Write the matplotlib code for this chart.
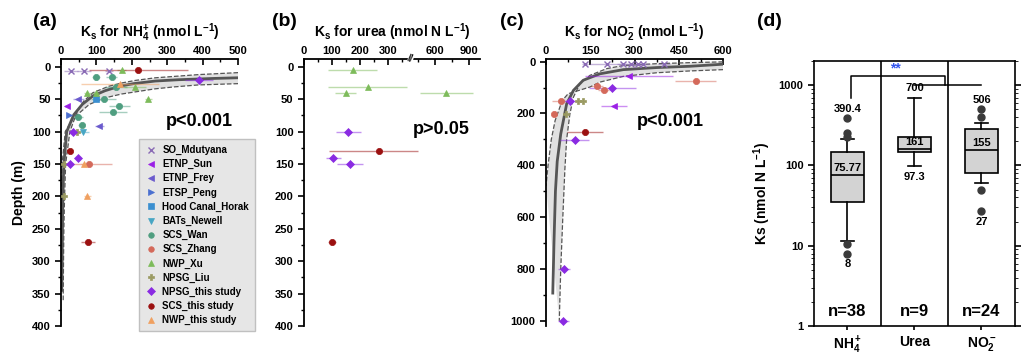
import numpy as np
import matplotlib
matplotlib.use("Agg")
import matplotlib.pyplot as plt
from matplotlib.colors import to_rgba
from matplotlib.lines import Line2D
from matplotlib.ticker import FixedLocator, MultipleLocator

plt.rcParams['font.family'] = ['Liberation Sans', 'DejaVu Sans']
plt.rcParams['font.weight'] = 'bold'
plt.rcParams['axes.labelweight'] = 'bold'
plt.rcParams['axes.titleweight'] = 'bold'
plt.rcParams['mathtext.fontset'] = 'custom'
for k in ['rm', 'it', 'bf', 'sf']:
    plt.rcParams['mathtext.' + k] = 'Liberation Sans:bold'

# series (legend order)
names = ["SO_Mdutyana", "ETNP_Sun", "ETNP_Frey", "ETSP_Peng", "Hood Canal_Horak",
         "BATs_Newell", "SCS_Wan", "SCS_Zhang", "NWP_Xu", "NPSG_Liu",
         "NPSG_this study", "SCS_this study", "NWP_this study"]
markers = ["x", "<", "<", ">", "s", "v", "o", "o", "^", "P", "D", "o", "^"]
colors = ["#8a6bb5", "#9a1fe6", "#6a5acd", "#4a6fd0", "#3b8fd0", "#47a6c4", "#4f9e80",
          "#d4695a", "#7dbb5a", "#9a9a62", "#8a2be2", "#9b1010", "#f0a060"]

# panel (a): Ks NH4+ (nmol L-1) vs depth (m)
a_names = ["SO_Mdutyana", "ETNP_Sun", "ETNP_Frey", "ETSP_Peng", "Hood Canal_Horak",
           "BATs_Newell", "SCS_Wan", "SCS_Zhang", "NWP_Xu", "NPSG_Liu",
           "NPSG_this study", "SCS_this study", "NWP_this study"]
a_ks = [[27, 66, 135], [17], [49, 108], [22], [98], [63],
        [99, 143, 155, 120, 165, 146, 48, 59], [79], [171, 209, 74, 98, 247],
        [44, 7, 7], [390, 35, 47, 24], [218, 24, 77], [167, 65, 74]]
a_depth = [[7, 7, 7], [60], [50, 92], [75], [50], [100],
           [15, 15, 31, 50, 60, 70, 77, 90], [150], [5, 31, 41, 41, 50],
           [100, 150, 200], [20, 100, 140, 150], [5, 130, 270], [26, 150, 200]]
a_err = [[20, 20, 12], [5], [15, 12], [4], [3], [15],
         [12, 15, 30, 35, 30, 40, 15, 10], [65], [12, 30, 10, 10, 10],
         [4, 3, 3], [40, 5, 5, 5], [140, 3, 20], [110, 8, 10]]
a_fit_depth = [17, 18, 20, 22, 26, 30, 37, 45, 58, 74, 100, 150, 200, 250, 300, 345]
a_fit_ks = [496, 430, 330, 266, 205, 165, 124, 90, 60, 36, 16, 8, 5, 4, 3, 2]
a_hi_depth = [9, 12, 17, 21, 25, 30, 40, 53, 70, 100, 150, 200, 250, 300, 362]
a_hi_ks = [500, 390, 266, 210, 171, 135, 90, 64, 45, 25, 13, 10, 8, 7, 6]
a_lo_depth = [26, 28, 31, 34, 42, 48, 58, 79, 100, 150, 200, 250, 300]
a_lo_ks = [500, 388, 320, 266, 171, 124, 80, 35, 12, 3, 1, 0.5, 0]

# panel (b): Ks urea (nmol N L-1)
b_names = ["NWP_Xu", "NPSG_this study", "SCS_this study"]
b_ks = [[174, 227, 149, 700], [158, 105, 164], [269, 99]]
b_depth = [[5, 31, 40, 40], [100, 140, 150], [130, 270]]
b_err = [[87, 140, 38, 235], [44, 27, 45], [180, 14]]

# panel (c): Ks NO2- (nmol L-1)
c_names = ["SO_Mdutyana", "ETNP_Sun", "SCS_Zhang", "NPSG_this study", "NPSG_Liu",
           "SCS_this study"]
c_ks = [[133, 206, 262, 287, 313, 330, 401], [282, 230], [507, 174, 195, 50, 27],
        [225, 81, 97, 62, 59], [107, 124, 68], [132]]
c_depth = [[8, 8, 8, 8, 8, 8, 8], [54, 170], [76, 96, 111, 151, 202],
           [101, 151, 301, 801, 1000], [151, 151, 202], [270]]
c_err = [[10, 60, 20, 20, 20, 20, 20], [150, 45], [70, 20, 20, 30, 8],
         [80, 25, 50, 20, 20], [5, 5, 5], [60]]
c_fit_depth = [10, 18, 23, 31, 47, 72, 111, 163, 227, 279, 385, 500, 700, 893]
c_fit_ks = [600, 488, 375, 262, 183, 126, 93, 70, 59, 50, 38, 32, 27, 23]
c_hi_depth = [1, 4, 8, 15, 27, 53, 85, 137, 202, 300, 415, 600, 800, 1000]
c_hi_ks = [600, 488, 375, 262, 206, 149, 115, 93, 81, 70, 64, 57, 50, 45]
c_lo_depth = [31, 36, 43, 57, 79, 98, 124, 150, 227, 300, 400, 480]
c_lo_ks = [600, 488, 375, 262, 183, 149, 75, 55, 31, 18, 7, 0]

# panel (d): box plot summary
d_labels = ["NH$_4^+$", "Urea", "NO$_2^-$"]
d_q1 = [35.5, 146, 81.5]
d_med = [75.77, 161, 155]
d_q3 = [146, 226, 284]
d_whislo = [11.3, 97.3, 61]
d_whishi = [211, 700, 334]
d_fliers = [[390.4, 253, 228, 10.5, 8], [], [506, 404, 49.7, 27]]
d_n = [38, 9, 24]
d_top_text = ["390.4", "700", "506"]
d_mid_text = ["75.77", "161", "155"]
d_bot_text = ["8", "97.3", "27"]

fig = plt.figure(figsize=(10.24, 3.57), dpi=100)
style = {n: (m, c) for n, m, c in zip(names, markers, colors)}


def depth_axes(ax, ymax, ymajor, yminor, xmax, xmajor, title):
    for s in ['right', 'bottom']:
        ax.spines[s].set_visible(False)
    for s in ['left', 'top']:
        ax.spines[s].set_linewidth(1.3)
    ax.xaxis.tick_top()
    ax.set_ylim(ymax, -ymax * 0.03)
    ax.yaxis.set_major_locator(MultipleLocator(ymajor))
    ax.yaxis.set_minor_locator(MultipleLocator(yminor))
    if xmax is not None:
        ax.set_xlim(0, xmax)
        ax.xaxis.set_major_locator(MultipleLocator(xmajor))
        ax.xaxis.set_minor_locator(MultipleLocator(xmajor / 2))
    ax.tick_params(axis='x', which='both', direction='in', labelsize=8, pad=2)
    ax.tick_params(axis='x', which='major', length=4, width=1.2)
    ax.tick_params(axis='x', which='minor', length=2.5, width=1)
    ax.tick_params(axis='y', which='major', length=4, width=1.2, labelsize=8)
    ax.tick_params(axis='y', which='minor', length=2.5, width=1)
    ax.set_title(title, fontsize=10, pad=16)


def draw_points(ax, snames, ks, depth, err):
    for n, x, y, e in zip(snames, ks, depth, err):
        m, c = style[n]
        ax.errorbar(x, y, xerr=e, fmt=m, color=c, ms=4.5 if m != 'x' else 5,
                    mew=1 if m == 'x' else 0.5, ecolor=to_rgba(c, 0.5),
                    elinewidth=1, capsize=0, zorder=3)


def draw_fit(ax, fd, fk, hd, hk, ld, lk):
    ax.fill(list(hk) + list(lk[::-1]), list(hd) + list(ld[::-1]),
            color='#dcdcdc', alpha=0.85, lw=0, zorder=1)
    ax.plot(hk, hd, '--', color='#555555', lw=0.9, zorder=2)
    ax.plot(lk, ld, '--', color='#555555', lw=0.9, zorder=2)
    ax.plot(fk, fd, '-', color='#555555', lw=2, zorder=2)


# (a)
ax_a = fig.add_axes([0.0596, 0.0868, 0.1729, 0.7479])
depth_axes(ax_a, 400, 50, 25, 500, 100,
           r"K$_{s}$ for NH$_{4}^{+}$ (nmol L$^{-1}$)")
draw_fit(ax_a, a_fit_depth, a_fit_ks, a_hi_depth, a_hi_ks, a_lo_depth, a_lo_ks)
draw_points(ax_a, a_names, a_ks, a_depth, a_err)
ax_a.set_ylabel("Depth (m)", fontsize=10, labelpad=4)
ax_a.text(0.78, 0.765, "p<0.001", transform=ax_a.transAxes, fontsize=13,
          ha='center', va='center')
handles = [Line2D([], [], ls='none', marker=m, color=c, ms=4, mew=1 if m == 'x' else 0.5)
           for m, c in zip(markers, colors)]
leg = ax_a.legend(handles, names, loc='upper left', bbox_to_anchor=(0.44, 0.70),
                  fontsize=7, labelspacing=0.42, handletextpad=0.6, handlelength=1.2,
                  borderpad=0.6, fancybox=False, framealpha=1, borderaxespad=0)
leg.get_frame().set_facecolor('#e6e6e6')
leg.get_frame().set_edgecolor('#c0c0c0')
leg.set_zorder(5)

# (b) broken x axis via piecewise scale
brk, ratio = 380, 0.40


def fwd(x):
    x = np.asarray(x, dtype=float)
    return np.where(x <= brk, x, brk + (x - brk) * ratio)


def inv(y):
    y = np.asarray(y, dtype=float)
    return np.where(y <= brk, y, brk + (y - brk) / ratio)


ax_b = fig.add_axes([0.2969, 0.0868, 0.1719, 0.7479])
ax_b.set_xscale('function', functions=(fwd, inv))
ax_b.set_xlim(0, 1000)
depth_axes(ax_b, 400, 50, 25, None, None,
           r"K$_{s}$ for urea (nmol N L$^{-1}$)")
ax_b.xaxis.set_major_locator(FixedLocator([0, 100, 200, 300, 600, 900]))
ax_b.xaxis.set_minor_locator(FixedLocator([50, 150, 250, 350, 450, 750]))
ax_b.xaxis.set_major_formatter(matplotlib.ticker.FuncFormatter(lambda v, p: f"{v:.0f}"))
draw_points(ax_b, b_names, b_ks, b_depth, b_err)
ax_b.text(brk, 1.0, "//", transform=ax_b.get_xaxis_transform(), fontsize=7,
          ha='center', va='center', rotation=-15,
          bbox=dict(facecolor='white', edgecolor='none', pad=0))
ax_b.text(0.78, 0.735, "p>0.05", transform=ax_b.transAxes, fontsize=13,
          ha='center', va='center')

# (c)
ax_c = fig.add_axes([0.5332, 0.0868, 0.1729, 0.7479])
depth_axes(ax_c, 1020, 200, 100, 600, 150,
           r"K$_{s}$ for NO$_{2}^{-}$ (nmol L$^{-1}$)")
ax_c.set_ylim(1020, -10)
draw_fit(ax_c, c_fit_depth, c_fit_ks, c_hi_depth, c_hi_ks, c_lo_depth, c_lo_ks)
draw_points(ax_c, c_names, c_ks, c_depth, c_err)
ax_c.text(0.7, 0.765, "p<0.001", transform=ax_c.transAxes, fontsize=13,
          ha='center', va='center')

# (d)
ax_d = fig.add_axes([0.7949, 0.0868, 0.1963, 0.7423])
pos = [1, 2, 3]
stats = [dict(q1=q1, med=md, q3=q3, whislo=wl, whishi=wh, fliers=fl)
         for q1, md, q3, wl, wh, fl in zip(d_q1, d_med, d_q3, d_whislo, d_whishi, d_fliers)]
ax_d.bxp(stats, positions=pos, widths=0.5, patch_artist=True,
         boxprops=dict(facecolor='#d3d3d3', edgecolor='black', linewidth=1.2),
         medianprops=dict(color='black', linewidth=1.2),
         whiskerprops=dict(linewidth=1.2), capprops=dict(linewidth=1.2),
         capwidths=0.18,
         flierprops=dict(marker='o', markerfacecolor='#3a3a3a', markeredgecolor='#3a3a3a',
                         markersize=5))
ax_d.set_yscale('log')
ax_d.set_ylim(1, 2000)
ax_d.set_xlim(0.5, 3.5)
for xv in [1.5, 2.5]:
    ax_d.axvline(xv, color='black', lw=1.2)
for s in ax_d.spines.values():
    s.set_linewidth(1.2)
ax_d.set_xticks(pos)
ax_d.set_xticklabels(d_labels, fontsize=10)
ax_d.tick_params(axis='y', which='both', right=True, labelsize=8)
ax_d.tick_params(axis='y', which='major', length=4, width=1.2)
ax_d.tick_params(axis='x', length=3, width=1.2)
ax_d.yaxis.set_major_formatter(matplotlib.ticker.FuncFormatter(lambda v, p: f"{v:.0f}"))
ax_d.set_ylabel("Ks (nmol N L$^{-1}$)", fontsize=10, labelpad=4)
top_vals = [max(f + [wh]) for f, wh in zip(d_fliers, d_whishi)]
bot_vals = [min(f + [wl]) for f, wl in zip(d_fliers, d_whislo)]
for p, tt, tv, mt, mv, bt, bv, n in zip(pos, d_top_text, top_vals, d_mid_text, d_med,
                                         d_bot_text, bot_vals, d_n):
    ax_d.text(p, tv * 1.3, tt, ha='center', va='center', fontsize=8)
    ax_d.text(p, mv * 1.22, mt, ha='center', va='center', fontsize=8)
    ax_d.text(p, bv * 0.74, bt, ha='center', va='center', fontsize=8)
    ax_d.text(p, 1.5, f"n={n}", ha='center', va='center', fontsize=12)
# significance bracket
sig_top, sig_low, sig_start = 1300, 1000, 690
ax_d.plot([pos[0] + 0.05, pos[0] + 0.05, pos[1] + 0.45, pos[1] + 0.45],
          [sig_start, sig_top, sig_top, sig_low], color='black', lw=1.1)
ax_d.plot([pos[1], pos[2]], [sig_low, sig_low], color='black', lw=1.1)
ax_d.text(1.72, 1600, "**", color='#3355ee', fontsize=10, ha='center', va='center')

# panel labels
for lx, lab in zip([33, 272, 500, 757], ["(a)", "(b)", "(c)", "(d)"]):
    fig.text(lx / 1024, 1 - 21 / 357, lab, fontsize=14, ha='left', va='center')

fig.savefig("out.png", dpi=100)
